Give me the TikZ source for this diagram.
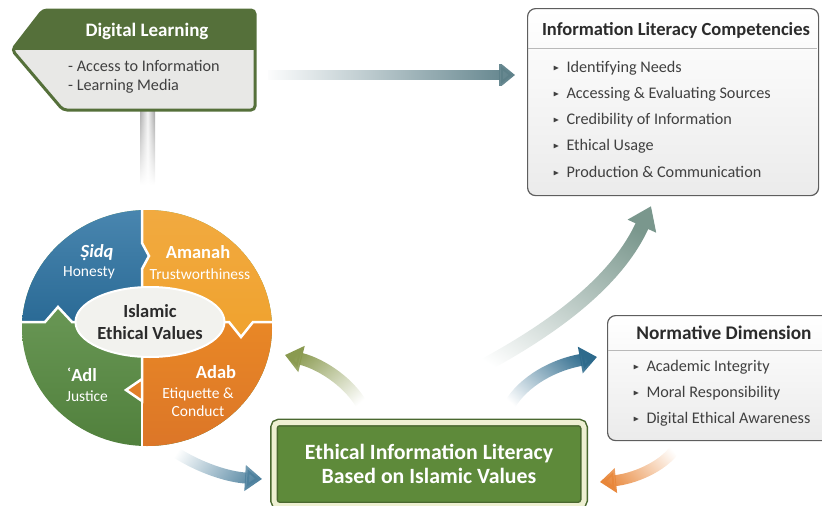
\documentclass[tikz,border=0pt]{standalone}
\usepackage{fontspec}
\setmainfont{Carlito}
\usepackage{amssymb}
\usetikzlibrary{arrows.meta,shapes.geometric,fadings}

\definecolor{signgreen}{HTML}{55703A}
\definecolor{signbody}{HTML}{E8E8E6}
\definecolor{boxline}{HTML}{5E5E5E}
\definecolor{boxfill}{HTML}{EBEBEB}
\definecolor{inktext}{HTML}{2B2B2B}
\definecolor{qblue}{HTML}{2F76A6}
\definecolor{qyellow}{HTML}{F0A22E}
\definecolor{qorange}{HTML}{E67A2A}
\definecolor{qgreen}{HTML}{5C9444}
\definecolor{coregray}{HTML}{F2F2EE}
\definecolor{eilgreen}{HTML}{5E8A3A}
\definecolor{eildark}{HTML}{4A6830}
\definecolor{eilcream}{HTML}{EEF0D2}
\definecolor{arrteal}{HTML}{5C7F88}
\definecolor{arrsage}{HTML}{7A978D}
\definecolor{arrblue}{HTML}{2D6A8C}
\definecolor{arrolive}{HTML}{8A9A50}
\definecolor{arrorange}{HTML}{E8873A}

\tikzfading[name=fade in east, left color=transparent!100, right color=transparent!0]
\tikzfading[name=fade out south, top color=transparent!0, bottom color=transparent!100]

\newcommand{\itembullet}{\raisebox{1.8pt}{\scalebox{0.5}{$\blacktriangleright$}}\hspace{7pt}}

\tikzset{
  infobox/.style={draw=boxline, line width=1.2pt, rounded corners=8pt, top color=white, bottom color=boxfill, anchor=north west, inner sep=0pt},
  boxtitle/.style={font=\fontsize{18.5}{22}\selectfont\bfseries, text=inktext},
  boxitem/.style={font=\fontsize{16.2}{19}\selectfont, text=inktext!90, anchor=west, inner sep=1pt},
  sepline/.style={draw=gray!55, line width=0.8pt},
  quadhead/.style={font=\fontsize{18.5}{22}\selectfont\bfseries, text=white},
  quadtext/.style={font=\fontsize{15.5}{18}\selectfont, text=white},
  flow/.style={line width=#1, path fading=fade in east},
}

\begin{document}
\begin{tikzpicture}[x=1pt,y=1pt]
\useasboundingbox (0,0) rectangle (822,-506);

% signpost
\shade[left color=gray!65, right color=gray!75, middle color=gray!10, path fading=fade out south] (140,-108) rectangle (155,-185);
\fill[signbody, rounded corners=4pt] (12,-50) -- (43,-10) -- (255,-10) -- (255,-110) -- (63,-110) -- cycle;
\begin{scope}
  \clip[rounded corners=4pt] (12,-50) -- (43,-10) -- (255,-10) -- (255,-110) -- (63,-110) -- cycle;
  \fill[signgreen] (0,0) rectangle (260,-50);
\end{scope}
\draw[signgreen, line width=3pt, rounded corners=4pt] (12,-50) -- (43,-10) -- (255,-10) -- (255,-110) -- (63,-110) -- cycle;
\node[quadhead, font=\fontsize{19}{22}\selectfont\bfseries] (dl-title) at (147,-31) {Digital Learning};
\node[boxitem] (dl-1) at (67,-66) {- Access to Information};
\node[boxitem] (dl-2) at (67,-86) {- Learning Media};

% competencies
\node[infobox, minimum width=291pt, minimum height=187pt] (ilc) at (527,-8) {};
\node[boxtitle] (ilc-title) at (676,-30) {Information Literacy Competencies};
\draw[sepline] (527.6,-48) -- (817.4,-48);
\foreach \t [count=\i] in {Identifying Needs, Accessing \& Evaluating Sources, Credibility of Information, Ethical Usage, Production \& Communication}
{
    \node[boxitem] (ilc-\i) at (552,{-68-26*(\i-1)}) {\itembullet\t};
}

% normative dimension
\node[infobox, minimum width=240pt, minimum height=125pt] (nd) at (607,-315) {};
\node[boxtitle, font=\fontsize{19.3}{22}\selectfont\bfseries] (nd-title) at (724,-333) {Normative Dimension};
\draw[sepline] (607.6,-350) -- (830,-350);
\foreach \t [count=\i] in {Academic Integrity, Moral Responsibility, Digital Ethical Awareness}
{
    \node[boxitem] (nd-\i) at (632,{-367-26*(\i-1)}) {\itembullet\t};
}

% values circle
\begin{scope}
  \clip (147,-328) ellipse [x radius=125, y radius=118];
  \shade[top color=qgreen!80!white, bottom color=qgreen!85!black] (10,-190) rectangle (290,-460);
  \shade[top color=qblue!85!white, bottom color=qblue!90!black] (10,-190) -- (142,-190) -- (142,-243) -- (149,-256) -- (142,-269) -- (142,-322) -- (72,-322) -- (58,-307) -- (45,-322) -- (10,-322) -- cycle;
  \shade[top color=qyellow!90!white, bottom color=qyellow] (142,-190) -- (142,-243) -- (149,-256) -- (142,-269) -- (142,-322) -- (229,-322) -- (241,-337) -- (253,-322) -- (290,-322) -- (290,-190) -- cycle;
  \shade[top color=qorange!90!yellow, bottom color=qorange!95!black] (142,-322) -- (229,-322) -- (241,-337) -- (253,-322) -- (290,-322) -- (290,-460) -- (142,-460) -- (142,-401) -- (126,-390) -- (142,-379) -- cycle;
  \draw[white, line width=2.5pt] (142,-190) -- (142,-243) -- (149,-256) -- (142,-269) -- (142,-401) -- (126,-390) -- (142,-379);
  \draw[white, line width=2.5pt] (142,-401) -- (142,-460);
  \draw[white, line width=2.5pt] (10,-322) -- (45,-322) -- (58,-307) -- (72,-322) -- (229,-322) -- (241,-337) -- (253,-322) -- (290,-322);
\end{scope}
\node[ellipse, fill=coregray, draw=white, line width=2pt, minimum width=136pt, minimum height=70pt, inner sep=0pt, align=center, font=\fontsize{18.5}{22}\selectfont\bfseries, text=inktext] (iev) at (150,-322) {Islamic\\Ethical Values};
\node[quadhead] (sidq) at (97,-253) {\itshape Ṣidq};
\node[quadtext] (sidq-en) at (89,-273) {Honesty};
\node[quadhead] (amanah) at (198,-252) {Amanah};
\node[quadtext] (amanah-en) at (200,-274) {Trustworthiness};
\node[quadhead] (adl) at (82,-375) {ʿAdl};
\node[quadtext] (adl-en) at (87,-396) {Justice};
\node[quadhead] (adab) at (216,-372) {Adab};
\node[quadtext, align=center, font=\fontsize{15.5}{18}\selectfont] (adab-en) at (198,-402) {Etiquette \&\\Conduct};

% core box
\node[draw=eildark, line width=1.5pt, double=eilcream, double distance=5pt, fill=eilgreen, rounded corners=5pt, minimum width=310pt, minimum height=83pt, align=center, text=white, font=\fontsize{21.8}{24}\selectfont\bfseries] (eil) at (429,-464) {Ethical Information Literacy\\Based on Islamic Values};

% arrows
\coordinate (dl-out) at (268,-75);
\coordinate (ilc-in) at (515,-75);
\coordinate (eil-up) at (460,-378);
\coordinate (ilc-low) at (651,-206);
\coordinate (eil-right) at (507,-410);
\coordinate (nd-in) at (597,-357);
\coordinate (eil-left) at (364,-409);
\coordinate (iev-in) at (285,-355);
\coordinate (iev-out) at (175,-452);
\coordinate (eil-in) at (262,-479);
\coordinate (nd-out) at (676,-448);
\coordinate (eil-in2) at (600,-482);

\draw[flow=10pt, arrteal, -{Triangle[length=16pt,width=25pt]}] (dl-out) -- (ilc-in);
\draw[flow=14pt, arrsage, fading angle=55, -{Triangle[length=22pt,width=30pt]}] (eil-up) .. controls (545,-335) and (615,-285) .. (ilc-low);
\draw[flow=12pt, arrblue, fading angle=35, -{Triangle[length=17pt,width=26pt]}] (eil-right) .. controls (518,-386) and (548,-366) .. (nd-in);
\draw[flow=12pt, arrolive, fading angle=140, -{Triangle[length=17pt,width=26pt]}] (eil-left) .. controls (352,-384) and (322,-364) .. (iev-in);
\draw[flow=11pt, arrblue!85!white, fading angle=-15, -{Triangle[length=17pt,width=25pt]}] (iev-out) .. controls (200,-468) and (228,-477) .. (eil-in);
\draw[flow=11pt, arrorange, fading angle=205, -{Triangle[length=16pt,width=24pt]}] (nd-out) .. controls (662,-468) and (632,-479) .. (eil-in2);
\end{tikzpicture}
\end{document}
